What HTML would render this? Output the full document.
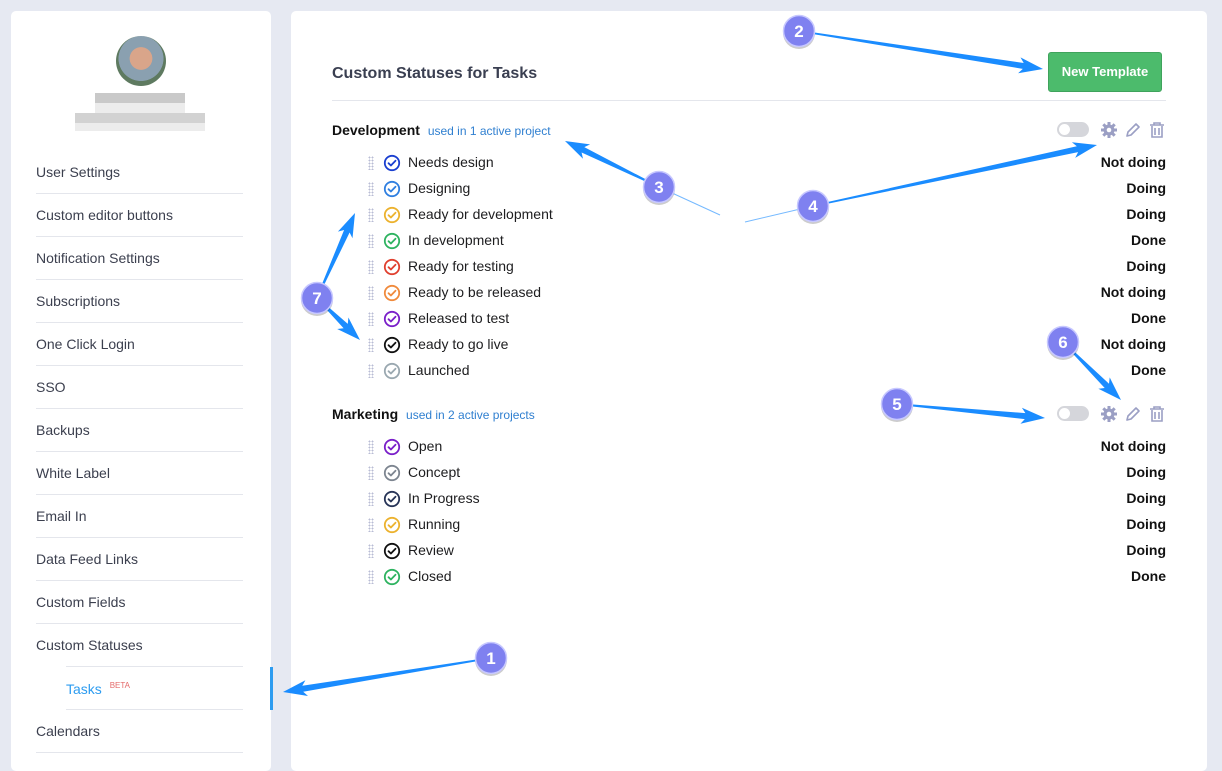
<!DOCTYPE html>
<html><head><meta charset="utf-8"><style>
*{margin:0;padding:0;box-sizing:border-box}
body{width:1222px;height:759px;background:#e6e9f2;font-family:"Liberation Sans",sans-serif;position:relative;overflow:hidden}
.card{position:absolute;background:#fff;border-radius:5px}
.a{position:absolute;white-space:nowrap}
.nav{position:absolute;left:36px;font-size:14px;color:#3b3f4e}
.div{position:absolute;left:36px;width:207px;height:1px;background:#e4e6ec}
.row{position:absolute;left:368px;height:20px;font-size:14px;color:#1d1d1f}
.dr{position:absolute;left:0;top:3px;width:6px;height:14px;background-image:radial-gradient(circle,#b9bcd4 0.8px,transparent 1px);background-size:3px 3px}
.row svg{position:absolute;left:15px;top:1px}
.row .t{position:absolute;left:40px;top:1px}
.st{position:absolute;right:56px;font-size:14px;font-weight:bold;color:#111}
</style></head><body>
<div class="card" style="left:11px;top:11px;width:260px;height:760px"></div>
<div class="card" style="left:291px;top:11px;width:916px;height:760px"></div>
<div class="a" style="left:116px;top:36px;width:50px;height:50px;border-radius:50%;background:radial-gradient(circle at 50% 45%,#d9a58a 0 30%,#8aa0b0 31% 60%,#5e7a60 61%)"></div>
<div class="a" style="left:95px;top:93px;width:90px;height:10px;background:#c9c9c9"></div>
<div class="a" style="left:95px;top:103px;width:90px;height:10px;background:#ececec"></div>
<div class="a" style="left:75px;top:113px;width:130px;height:10px;background:#d2d2d2"></div>
<div class="a" style="left:75px;top:123px;width:130px;height:8px;background:#ececec"></div>
<div id="nav"></div>
<div class="a" style="left:270px;top:667px;width:3px;height:43px;background:#2d9cf0"></div>
<div class="a" style="left:332px;top:65px;font-size:16px;font-weight:bold;color:#3a3f51">Custom Statuses for Tasks</div>
<div class="a" style="left:1048px;top:52px;width:114px;height:40px;background:#4cbb6c;border-radius:3px;border:1px solid #3fa35c;color:#fff;font-size:13px;font-weight:bold;text-align:center;line-height:38px">New Template</div>
<div class="a" style="left:332px;top:100px;width:834px;height:1px;background:#e4e6ec"></div>
<div class="a" style="left:332px;top:122px;font-size:14px;font-weight:bold;color:#111">Development <span style="font-weight:normal;font-size:12px;color:#2f7fd0;margin-left:4px">used in 1 active project</span></div>
<div class="a" style="left:332px;top:406px;font-size:14px;font-weight:bold;color:#111">Marketing <span style="font-weight:normal;font-size:12px;color:#2f7fd0;margin-left:4px">used in 2 active projects</span></div>
<div id="rows"></div>
<div id="tools"></div>
<svg class="a" style="left:0;top:0" width="1222" height="759" id="ov"></svg>
<script>
var nav=["User Settings","Custom editor buttons","Notification Settings","Subscriptions","One Click Login","SSO","Backups","White Label","Email In","Data Feed Links","Custom Fields","Custom Statuses","Tasks","Calendars"];
var h="";nav.forEach(function(n,i){var y=164+i*43;
if(n=="Tasks")h+='<div class="nav" style="left:66px;top:'+(y+1)+'px;color:#2d9cf0">Tasks <sup style="font-size:8px;color:#e46a6a;margin-left:4px">BETA</sup></div>';
else h+='<div class="nav" style="top:'+y+'px">'+n+'</div>';
if(i<13)h+='<div class="div" style="top:'+(y+29)+'px;'+(i==11?'left:66px;width:177px':'')+(i==12?'left:66px;width:177px':'')+'"></div>';});
h+='<div class="div" style="top:752px"></div>';
document.getElementById("nav").innerHTML=h;
var r=[["Needs design","#1a3fd0","Not doing"],["Designing","#2f7fe0","Doing"],["Ready for development","#ecb22e","Doing"],["In development","#2eb360","Done"],["Ready for testing","#e0402f","Doing"],["Ready to be released","#f08a3c","Not doing"],["Released to test","#7a1fc9","Done"],["Ready to go live","#111","Not doing"],["Launched","#9aa8b0","Done"]];
var m=[["Open","#7a1fc9","Not doing"],["Concept","#7d8590","Doing"],["In Progress","#273457","Doing"],["Running","#ecb22e","Doing"],["Review","#111","Doing"],["Closed","#2eb360","Done"]];
var s="";function add(a,y0){a.forEach(function(x,i){var y=y0+i*26;
s+='<div class="row" style="top:'+y+'px;width:798px"><div class="dr"></div><svg width="18" height="18" viewBox="0 0 18 18"><circle cx="9" cy="9" r="7.2" fill="none" stroke="'+x[1]+'" stroke-width="1.8"/><path d="M5.5 9.2l2.4 2.3 4.6-4.8" fill="none" stroke="'+x[1]+'" stroke-width="1.8" stroke-linecap="round" stroke-linejoin="round"/></svg><span class="t">'+x[0]+'</span><span class="st" style="right:0;top:1px">'+x[2]+'</span></div>';});}
add(r,153);add(m,437);
function tools(y){return '<div class="a" style="left:1057px;top:'+(y+1)+'px;width:32px;height:15px;border-radius:8px;background:#d5d6db"><div style="position:absolute;left:2px;top:2px;width:11px;height:11px;border-radius:50%;background:#fff"></div></div>'+
'<svg class="a" style="left:1100px;top:'+y+'px" width="70" height="18" viewBox="0 0 70 18"><g fill="#9b9fc4"><circle cx="9" cy="9" r="5.5"/><g stroke="#9b9fc4" stroke-width="3"><line x1="9" y1="1" x2="9" y2="17"/><line x1="1" y1="9" x2="17" y2="9"/><line x1="3.3" y1="3.3" x2="14.7" y2="14.7"/><line x1="14.7" y1="3.3" x2="3.3" y2="14.7"/></g><circle cx="9" cy="9" r="2.3" fill="#fff"/></g><path d="M27 15l1-4 8-8 3 3-8 8z" fill="none" stroke="#9b9fc4" stroke-width="1.6" stroke-linejoin="round"/><g fill="none" stroke="#9b9fc4" stroke-width="1.6"><path d="M50 4h14M54 4V2h6v2M52 5v11h10V5M55 7v7M59 7v7"/></g></svg>';}
document.getElementById("tools").innerHTML=tools(121)+tools(405);
document.getElementById("rows").innerHTML=s;
var o="";
function arr(x1,y1,x2,y2){var dx=x2-x1,dy=y2-y1,L=Math.sqrt(dx*dx+dy*dy),ux=dx/L,uy=dy/L,px=-uy,py=ux;
var hb=20,bx=x2-ux*hb,by=y2-uy*hb,w0=0.7,w1=3,hw=8;
var pts=[[x1+px*w0,y1+py*w0],[bx+px*w1,by+py*w1],[bx-ux*4+px*hw,by-uy*4+py*hw],[x2,y2],[bx-ux*4-px*hw,by-uy*4-py*hw],[bx-px*w1,by-py*w1],[x1-px*w0,y1-py*w0]];
o+='<polygon points="'+pts.map(function(p){return p[0].toFixed(1)+","+p[1].toFixed(1)}).join(" ")+'" fill="#1a8cff"/>';}
function circ(x,y,n){o+='<circle cx="'+x+'" cy="'+(y+2)+'" r="16" fill="rgba(0,0,0,0.2)"/><circle cx="'+x+'" cy="'+y+'" r="15.5" fill="#7f81f0" stroke="#c7c8ff" stroke-width="1.5"/><text x="'+x+'" y="'+(y+6)+'" text-anchor="middle" font-family="Liberation Sans" font-weight="bold" font-size="17" fill="#fff">'+n+'</text>';}
arr(491,658,283,692);arr(799,31,1043,69);arr(659,187,565,141);arr(813,206,1097,145);arr(897,404,1045,418);arr(1063,342,1121,400);arr(317,298,355,213);arr(317,298,360,340);
o+='<line x1="659" y1="187" x2="720" y2="215" stroke="#1a8cff" stroke-width="1" opacity=".6"/><line x1="813" y1="206" x2="745" y2="222" stroke="#1a8cff" stroke-width="1" opacity=".6"/>';
circ(491,658,1);circ(799,31,2);circ(659,187,3);circ(813,206,4);circ(897,404,5);circ(1063,342,6);circ(317,298,7);
document.getElementById("ov").innerHTML=o;
</script>
</body></html>
